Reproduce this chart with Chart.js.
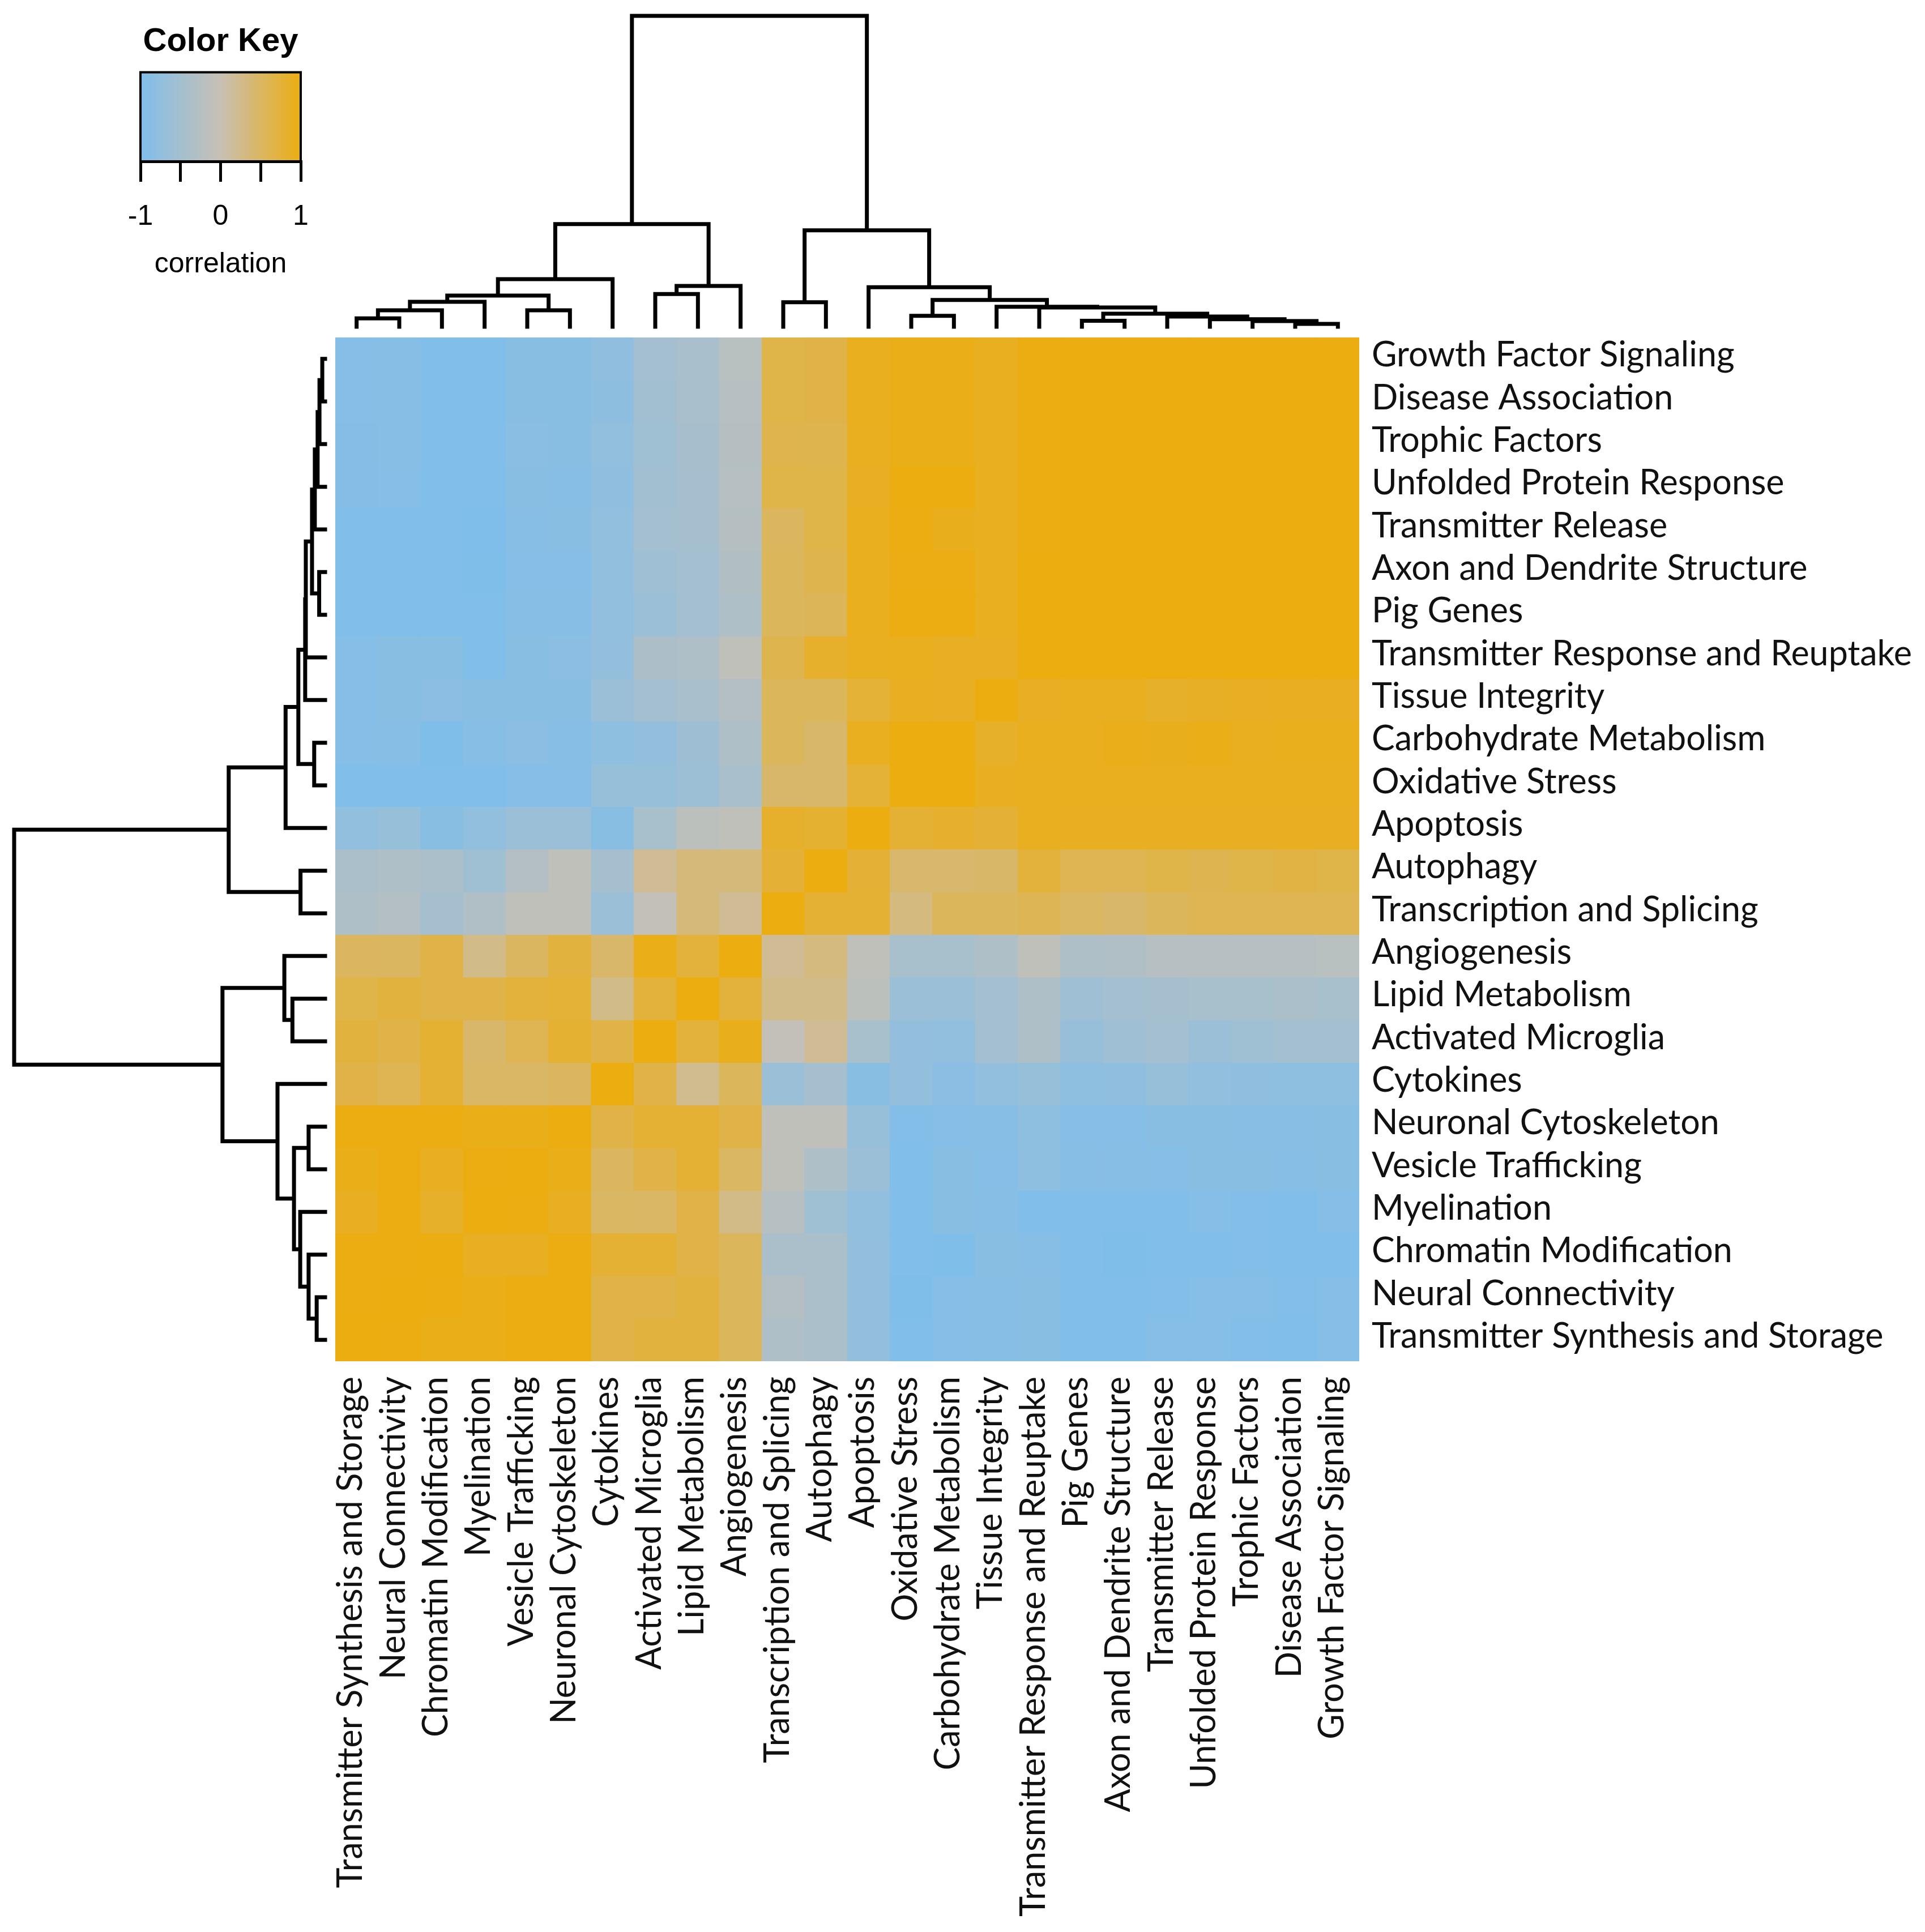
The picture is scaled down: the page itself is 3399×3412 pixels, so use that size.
<!DOCTYPE html>
<html>
<head>
<meta charset="utf-8">
<script src="https://cdn.jsdelivr.net/npm/chart.js@4.4.1/dist/chart.umd.min.js"></script>
<style>
html,body{margin:0;padding:0;background:#fff;}
#wrap{position:relative;width:3399px;height:3412px;overflow:hidden;background:#fff;}
canvas{position:absolute;}
</style>
</head>
<body>
<div id="wrap">
<canvas id="key" width="500" height="520" style="left:140px;top:0px;width:500px;height:520px"></canvas>
<canvas id="colDendro" width="1828" height="569" style="left:582px;top:18px;width:1828px;height:569px"></canvas>
<canvas id="rowDendro" width="569" height="1828" style="left:15px;top:586px;width:569px;height:1828px"></canvas>
<canvas id="heat" width="2807" height="2816" style="left:592px;top:596px;width:2807px;height:2816px"></canvas>
</div>
<script>
// ---------------- DATA ----------------
const rowLabels = [
  "Growth Factor Signaling","Disease Association","Trophic Factors","Unfolded Protein Response",
  "Transmitter Release","Axon and Dendrite Structure","Pig Genes","Transmitter Response and Reuptake",
  "Tissue Integrity","Carbohydrate Metabolism","Oxidative Stress","Apoptosis","Autophagy",
  "Transcription and Splicing","Angiogenesis","Lipid Metabolism","Activated Microglia","Cytokines",
  "Neuronal Cytoskeleton","Vesicle Trafficking","Myelination","Chromatin Modification",
  "Neural Connectivity","Transmitter Synthesis and Storage"
];
const colLabels = [
  "Transmitter Synthesis and Storage","Neural Connectivity","Chromatin Modification","Myelination",
  "Vesicle Trafficking","Neuronal Cytoskeleton","Cytokines","Activated Microglia","Lipid Metabolism",
  "Angiogenesis","Transcription and Splicing","Autophagy","Apoptosis","Oxidative Stress",
  "Carbohydrate Metabolism","Tissue Integrity","Transmitter Response and Reuptake","Pig Genes",
  "Axon and Dendrite Structure","Transmitter Release","Unfolded Protein Response","Trophic Factors",
  "Disease Association","Growth Factor Signaling"
];
// correlation of each row (row label) with each column (column order above)
const growthFactorSignaling = [-0.92,-0.89,-0.97,-0.97,-0.86,-0.86,-0.78,-0.49,-0.42,-0.22,0.65,0.66,0.91,0.95,0.95,0.90,0.99,1,1,1,1,1,1,1];
const diseaseAssociation    = [-0.92,-0.89,-0.97,-0.97,-0.86,-0.86,-0.79,-0.52,-0.42,-0.25,0.65,0.66,0.91,0.95,0.95,0.90,0.99,1,1,1,1,1,1,1];
const trophicFactors        = [-0.93,-0.89,-0.97,-0.97,-0.85,-0.86,-0.75,-0.56,-0.45,-0.26,0.63,0.62,0.90,0.95,0.95,0.90,0.99,1,1,1,1,1,1,1];
const unfoldedProtein       = [-0.93,-0.92,-0.97,-0.97,-0.86,-0.89,-0.77,-0.52,-0.47,-0.25,0.65,0.65,0.88,1,1,0.90,0.99,1,1,1,1,1,1,1];
const transmitterRelease    = [-0.97,-0.97,-0.97,-1,-0.89,-0.86,-0.74,-0.49,-0.47,-0.26,0.52,0.65,0.91,0.99,0.93,0.90,0.99,1,1,1,1,1,1,1];
const axonDendrite          = [-0.97,-0.97,-0.97,-0.99,-0.92,-0.92,-0.74,-0.58,-0.49,-0.31,0.54,0.62,0.91,0.98,0.98,0.90,1,1,1,1,1,1,1,1];
const pigGenes              = [-0.97,-0.97,-0.97,-0.97,-0.89,-0.89,-0.75,-0.61,-0.51,-0.36,0.54,0.56,0.91,0.99,0.99,0.90,1,1,1,1,1,1,1,1];
const transmitterResponse   = [-0.92,-0.86,-0.86,-0.97,-0.86,-0.84,-0.72,-0.38,-0.36,-0.11,0.62,0.83,0.90,0.91,0.88,0.88,1,1,1,1,1,1,1,1];
const tissueIntegrity       = [-0.92,-0.86,-0.83,-0.86,-0.86,-0.86,-0.61,-0.49,-0.42,-0.28,0.54,0.55,0.76,0.89,0.88,1,0.88,0.90,0.90,0.85,0.87,0.88,0.89,0.89];
const carbohydrateMetab     = [-0.92,-0.89,-0.99,-0.89,-0.83,-0.89,-0.80,-0.72,-0.57,-0.34,0.54,0.45,0.90,1,1,0.85,0.91,0.91,0.94,0.93,0.95,0.90,0.92,0.92];
const oxidativeStress       = [-0.97,-0.97,-0.97,-0.97,-0.92,-0.92,-0.69,-0.69,-0.60,-0.42,0.45,0.45,0.76,1,1,0.89,0.90,0.91,0.91,0.91,0.91,0.91,0.91,0.91];
const apoptosis             = [-0.75,-0.69,-0.86,-0.75,-0.61,-0.61,-0.86,-0.44,-0.17,-0.11,0.83,0.80,1,0.78,0.82,0.77,0.90,0.89,0.89,0.89,0.89,0.89,0.89,0.89];
const autophagy             = [-0.40,-0.36,-0.40,-0.56,-0.28,-0.11,-0.47,0.19,0.35,0.35,0.77,1,0.77,0.43,0.43,0.46,0.74,0.60,0.60,0.65,0.61,0.65,0.68,0.65];
const transcriptionSplicing = [-0.36,-0.28,-0.47,-0.33,-0.11,-0.11,-0.61,-0.07,0.35,0.19,1,0.78,0.78,0.33,0.54,0.54,0.58,0.50,0.45,0.54,0.60,0.60,0.60,0.60];
const angiogenesis          = [0.52,0.51,0.66,0.26,0.51,0.72,0.45,0.95,0.74,1,0.19,0.33,-0.11,-0.44,-0.44,-0.35,-0.11,-0.35,-0.33,-0.25,-0.25,-0.25,-0.25,-0.22];
const lipidMetabolism       = [0.65,0.72,0.66,0.66,0.74,0.76,0.26,0.74,1,0.74,0.26,0.26,-0.17,-0.61,-0.61,-0.49,-0.36,-0.58,-0.51,-0.47,-0.44,-0.44,-0.40,-0.44];
const activatedMicroglia    = [0.72,0.66,0.79,0.45,0.60,0.79,0.66,1,0.74,0.93,-0.08,0.19,-0.44,-0.72,-0.75,-0.51,-0.36,-0.67,-0.58,-0.49,-0.61,-0.56,-0.51,-0.51];
const cytokines             = [0.66,0.60,0.78,0.49,0.49,0.52,1,0.66,0.23,0.54,-0.61,-0.47,-0.86,-0.72,-0.83,-0.75,-0.69,-0.80,-0.78,-0.69,-0.75,-0.78,-0.80,-0.80];
const neuronalCytoskeleton  = [0.99,0.99,0.99,0.95,0.95,1,0.66,0.78,0.78,0.66,-0.11,-0.11,-0.67,-0.94,-0.92,-0.89,-0.80,-0.92,-0.92,-0.86,-0.86,-0.87,-0.87,-0.86];
const vesicleTrafficking    = [0.95,0.99,0.89,0.99,1,0.95,0.52,0.66,0.78,0.50,-0.11,-0.36,-0.61,-0.97,-0.86,-0.92,-0.80,-0.89,-0.89,-0.92,-0.86,-0.86,-0.89,-0.86];
const myelination           = [0.89,0.99,0.84,1,0.99,0.89,0.50,0.48,0.66,0.28,-0.25,-0.56,-0.75,-0.97,-0.86,-0.89,-0.97,-0.97,-0.97,-0.97,-0.92,-0.94,-0.97,-0.92];
const chromatinModification = [0.99,0.99,1,0.89,0.89,0.99,0.78,0.78,0.66,0.54,-0.40,-0.40,-0.72,-0.97,-0.99,-0.86,-0.89,-0.97,-0.99,-0.97,-0.97,-0.94,-0.97,-0.97];
const neuralConnectivity    = [0.99,1,0.99,0.95,0.99,0.99,0.66,0.66,0.72,0.54,-0.28,-0.40,-0.72,-0.99,-0.92,-0.89,-0.86,-0.97,-0.97,-0.94,-0.92,-0.92,-0.94,-0.92];
const transmitterSynthesis  = [1,0.99,0.95,0.95,0.99,0.99,0.66,0.72,0.72,0.54,-0.36,-0.40,-0.72,-0.97,-0.92,-0.89,-0.86,-0.97,-0.97,-0.92,-0.92,-0.94,-0.97,-0.92];

// dendrogram (hclust-style merges; negative = leaf -(rowIndex+1), positive = earlier merge number)
const mergeLeft   = [-24,  1,  2, -20,  3,  5, -17,  7,  6, -14, -11, -1, 12, 13, 14, -6, 15, 17, 18, 19, 20, 21, 22];
const mergeRight  = [-23,-22,-21, -19,  4,-18, -16,-15,  8, -13, -10, -2, -3, -4, -5, -7, 16, -8, -9, 11,-12, 10,  9];
const mergeHeight = [0.27,0.53,0.80,0.53,1.00,1.53,1.05,1.31,3.30,0.79,0.35,0.09,0.18,0.24,0.33,0.19,0.42,0.62,0.64,0.86,1.27,3.10,10.0];

const keyTicks = [-1, 0, 1];

// ---------------- STYLE ----------------
const matrix = [growthFactorSignaling,diseaseAssociation,trophicFactors,unfoldedProtein,transmitterRelease,
  axonDendrite,pigGenes,transmitterResponse,tissueIntegrity,carbohydrateMetab,oxidativeStress,apoptosis,
  autophagy,transcriptionSplicing,angiogenesis,lipidMetabolism,activatedMicroglia,cytokines,
  neuronalCytoskeleton,vesicleTrafficking,myelination,chromatinModification,neuralConnectivity,transmitterSynthesis];

const cBlue = [127,190,235], cMid = [200,192,180], cOrange = [236,173,16];
function colorFor(v) {
  const t = Math.max(-1, Math.min(1, v));
  const end = t < 0 ? cBlue : cOrange, f = Math.abs(t);
  const c = cMid.map((m, i) => Math.round(m + (end[i] - m) * f));
  return `rgb(${c[0]},${c[1]},${c[2]})`;
}

Chart.defaults.font.family = "'Liberation Sans', Arial, sans-serif";
const labelFont = "Lato";
const mctx = document.createElement('canvas').getContext('2d');
mctx.font = `100px ${labelFont}`;
const widest = Math.max(...rowLabels.map(s => mctx.measureText(s).width));
const labelSize = Math.round(100 * 947 / widest);

const CELL_AREA = 1808;

// ---------------- HEATMAP ----------------
const heatDatasets = rowLabels.map((name, r) => ({
  label: name,
  data: colLabels.map(() => [r, r + 1]),
  backgroundColor: matrix[r].map(colorFor),
  borderWidth: 0,
  barPercentage: 1,
  categoryPercentage: 1,
  grouped: false
}));

new Chart(document.getElementById('heat'), {
  type: 'bar',
  data: { labels: colLabels, datasets: heatDatasets },
  options: {
    responsive: false, animation: false,
    layout: { padding: 0 },
    plugins: { legend: { display: false }, tooltip: { enabled: false }, title: { display: false } },
    scales: {
      x: {
        type: 'category', position: 'bottom', offset: true,
        grid: { display: false, drawTicks: false }, border: { display: false },
        ticks: { autoSkip: false, maxRotation: 90, minRotation: 90, padding: 27, labelOffset: -10, color: '#111',
                 font: { family: labelFont, size: labelSize } },
        afterFit(s) { s.height = 2816 - CELL_AREA; s.paddingLeft = 0; s.paddingRight = 0; }
      },
      y: { type: 'linear', min: 0, max: 24, reverse: true, display: false },
      y2: {
        type: 'category', labels: rowLabels, position: 'right', offset: true,
        grid: { display: false, drawTicks: false }, border: { display: false },
        ticks: { autoSkip: false, padding: 22, labelOffset: -6, color: '#111', font: { family: labelFont, size: labelSize } },
        afterFit(s) { s.width = 2807 - CELL_AREA; s.paddingTop = 0; s.paddingBottom = 0; }
      }
    }
  }
});

// ---------------- DENDROGRAMS ----------------
function buildDendro(leafPos, swap) {
  const pos = [], hgt = [], pts = [];
  const get = ref => ref < 0 ? { p: leafPos(-ref - 1), h: 0 } : { p: pos[ref - 1], h: hgt[ref - 1] };
  for (let k = 0; k < mergeLeft.length; k++) {
    const a = get(mergeLeft[k]), b = get(mergeRight[k]), h = mergeHeight[k];
    pos[k] = (a.p + b.p) / 2; hgt[k] = h;
    [[a.p, a.h], [a.p, h], [b.p, h], [b.p, b.h]].forEach(([p, hh]) =>
      pts.push(swap ? { x: hh, y: p } : { x: p, y: hh }));
    pts.push({ x: null, y: null });
  }
  return pts;
}
const dendroLine = {
  showLine: true, borderColor: '#000', borderWidth: 7, pointRadius: 0, pointHoverRadius: 0,
  spanGaps: false, tension: 0, borderJoinStyle: 'miter', borderCapStyle: 'square', clip: false
};
const hMax = Math.max(...mergeHeight);

new Chart(document.getElementById('colDendro'), {
  type: 'scatter',
  data: { datasets: [Object.assign({ data: buildDendro(i => colLabels.indexOf(rowLabels[i]), false) }, dendroLine)] },
  options: {
    responsive: false, animation: false,
    layout: { padding: 10 },
    plugins: { legend: { display: false }, tooltip: { enabled: false } },
    scales: {
      x: { type: 'linear', min: -0.5, max: colLabels.length - 0.5, display: false },
      y: { type: 'linear', min: 0, max: hMax, display: false }
    }
  }
});

new Chart(document.getElementById('rowDendro'), {
  type: 'scatter',
  data: { datasets: [Object.assign({ data: buildDendro(i => i, true) }, dendroLine)] },
  options: {
    responsive: false, animation: false,
    layout: { padding: 10 },
    plugins: { legend: { display: false }, tooltip: { enabled: false } },
    scales: {
      x: { type: 'linear', min: 0, max: hMax, reverse: true, display: false },
      y: { type: 'linear', min: -0.5, max: rowLabels.length - 0.5, reverse: true, display: false }
    }
  }
});

// ---------------- COLOR KEY ----------------
const keyPlugin = {
  id: 'keyFill',
  beforeDraw(chart) {
    const { ctx, chartArea: a } = chart;
    const g = ctx.createLinearGradient(a.left, 0, a.right, 0);
    for (let i = 0; i <= 40; i++) g.addColorStop(i / 40, colorFor(-1 + i / 20));
    ctx.save(); ctx.fillStyle = g; ctx.fillRect(a.left, a.top, a.width, a.height); ctx.restore();
  },
  afterDraw(chart) {
    const { ctx, chartArea: a } = chart;
    ctx.save(); ctx.strokeStyle = '#000'; ctx.lineWidth = 4;
    ctx.strokeRect(a.left, a.top, a.width, a.height); ctx.restore();
  }
};

new Chart(document.getElementById('key'), {
  type: 'scatter',
  data: { datasets: [{ data: [] }] },
  options: {
    responsive: false, animation: false,
    layout: { padding: { left: 108, right: 109, top: 0, bottom: 0 } },
    plugins: {
      legend: { display: false }, tooltip: { enabled: false },
      title: { display: true, text: 'Color Key', color: '#000',
               font: { size: 58, weight: 'bold' }, padding: { top: 39, bottom: 19 } }
    },
    scales: {
      x: {
        type: 'linear', min: -1, max: 1, position: 'bottom',
        ticks: { stepSize: 0.5, padding: 32, color: '#000', font: { size: 50 }, autoSkip: false,
                 callback: v => keyTicks.includes(v) ? String(v) : '' },
        grid: { drawOnChartArea: false, drawTicks: true, tickLength: 36, lineWidth: 5, color: '#000' },
        border: { display: true, color: '#000', width: 5 },
        title: { display: true, text: 'correlation', color: '#000', font: { size: 50 }, padding: { top: 0, bottom: 23 } },
        afterFit(s) { s.height = 235; }
      },
      y: { type: 'linear', min: 0, max: 1, display: false }
    }
  },
  plugins: [keyPlugin]
});
</script>
</body>
</html>
